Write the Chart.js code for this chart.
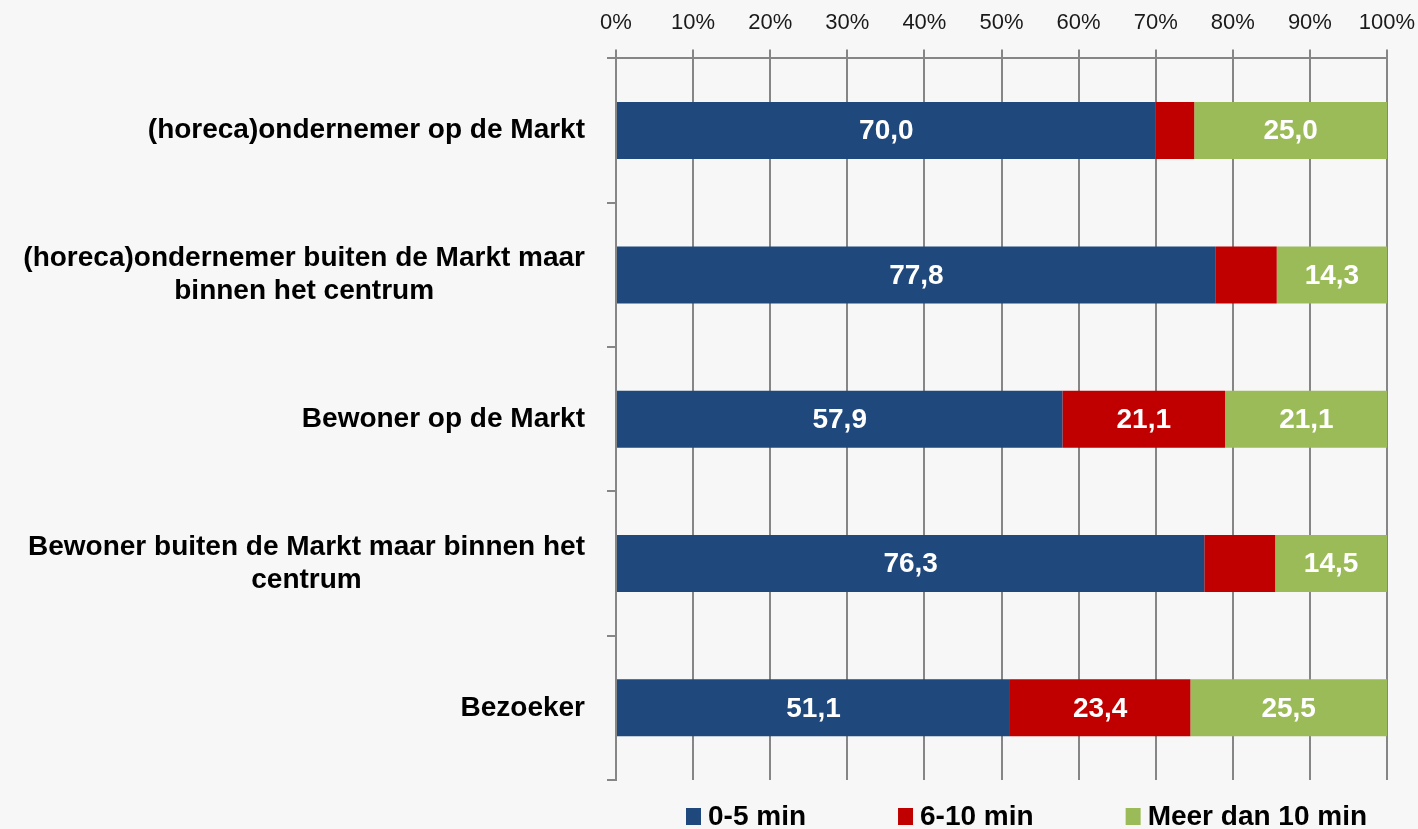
<!DOCTYPE html>
<html>
<head>
<meta charset="utf-8">
<script src="https://cdn.jsdelivr.net/npm/chart.js@4"></script>
<style>
  html, body { margin: 0; padding: 0; background: #f7f7f7; }
  #wrap { width: 1418px; height: 829px; position: relative; }
</style>
</head>
<body>
<div id="wrap"><canvas id="chart"></canvas></div>
<script>
// --- data ---
const categories = [
  ['(horeca)ondernemer op de Markt'],
  ['(horeca)ondernemer buiten de Markt maar', 'binnen het centrum'],
  ['Bewoner op de Markt'],
  ['Bewoner buiten de Markt maar binnen het', 'centrum'],
  ['Bezoeker']
];
const seriesNames = ['0-5 min', '6-10 min', 'Meer dan 10 min'];
const min0to5 = [70.0, 77.8, 57.9, 76.3, 51.1];
const min6to10 = [5.0, 7.9, 21.1, 9.2, 23.4];
const min10plus = [25.0, 14.3, 21.1, 14.5, 25.5];
const xTicks = [0, 10, 20, 30, 40, 50, 60, 70, 80, 90, 100];

const colors = ['#1f497d', '#c00000', '#9bbb59'];
const FONT = '"Liberation Sans", Arial, sans-serif';
const gridColor = '#868686';

// value labels inside segments (only the wide ones)
const valueLabels = {
  id: 'valueLabels',
  afterDatasetsDraw(chart) {
    const ctx = chart.ctx;
    ctx.save();
    ctx.font = 'bold 28px ' + FONT;
    ctx.fillStyle = '#ffffff';
    ctx.textAlign = 'center';
    ctx.textBaseline = 'middle';
    chart.data.datasets.forEach((ds, i) => {
      chart.getDatasetMeta(i).data.forEach((bar, j) => {
        const v = ds.data[j];
        if (v < 10) return;
        const p = bar.getProps(['x', 'y', 'base']);
        ctx.fillText(v.toFixed(1).replace('.', ','), (p.x + p.base) / 2, p.y + 1);
      });
    });
    ctx.restore();
  }
};

// category labels: block right-aligned to the axis, lines centered within block
const catLabels = {
  id: 'catLabels',
  afterDraw(chart) {
    const ctx = chart.ctx;
    const y = chart.scales.y;
    const right = chart.chartArea.left - 31;
    const lh = 33;
    ctx.save();
    ctx.font = 'bold 28px ' + FONT;
    ctx.fillStyle = '#000000';
    ctx.textAlign = 'center';
    ctx.textBaseline = 'middle';
    categories.forEach((lines, i) => {
      const w = Math.max(...lines.map(l => ctx.measureText(l).width));
      const cx = right - w / 2;
      const cy = y.getPixelForValue(i);
      const top = cy - (lines.length - 1) * lh / 2;
      lines.forEach((l, k) => ctx.fillText(l, cx, top + k * lh));
    });
    ctx.restore();
  }
};

// legend drawn below the plot
const bottomLegend = {
  id: 'bottomLegend',
  afterDraw(chart) {
    const ctx = chart.ctx;
    const cy = chart.chartArea.bottom + 36;
    let x = 686;
    ctx.save();
    ctx.font = 'bold 28px ' + FONT;
    ctx.textBaseline = 'middle';
    ctx.textAlign = 'left';
    chart.data.datasets.forEach(ds => {
      ctx.fillStyle = ds.backgroundColor;
      ctx.fillRect(x, cy - 8, 15, 17);
      ctx.fillStyle = '#000000';
      ctx.fillText(ds.label, x + 22, cy + 1);
      x += 22 + ctx.measureText(ds.label).width + 92;
    });
    ctx.restore();
  }
};

new Chart(document.getElementById('chart'), {
  type: 'bar',
  data: {
    labels: categories,
    datasets: [
      { label: seriesNames[0], data: min0to5, backgroundColor: colors[0] },
      { label: seriesNames[1], data: min6to10, backgroundColor: colors[1] },
      { label: seriesNames[2], data: min10plus, backgroundColor: colors[2] }
    ]
  },
  options: {
    indexAxis: 'y',
    responsive: true,
    maintainAspectRatio: false,
    animation: false,
    datasets: { bar: { categoryPercentage: 1, barPercentage: 0.395 } },
    layout: { padding: { left: 0, right: 31, top: -3, bottom: 49 } },
    scales: {
      x: {
        position: 'top',
        stacked: true,
        min: 0, max: 100,
        afterBuildTicks(axis) { axis.ticks = xTicks.map(v => ({ value: v })); },
        afterFit(axis) { axis.paddingLeft = 0; axis.paddingRight = 0; },
        ticks: {
          callback: v => v + '%',
          color: '#1a1a1a',
          font: { family: FONT, size: 22 },
          padding: 13,
          maxRotation: 0
        },
        grid: { color: gridColor, lineWidth: 2, tickLength: 9, tickColor: gridColor },
        border: { color: gridColor, width: 2 }
      },
      y: {
        stacked: true,
        afterFit(axis) { axis.width = 616; },
        ticks: { display: false },
        grid: { drawOnChartArea: false, color: gridColor, lineWidth: 2, tickLength: 9, offset: true },
        border: { color: gridColor, width: 2 }
      }
    },
    plugins: {
      tooltip: { enabled: false },
      legend: { display: false }
    }
  },
  plugins: [valueLabels, catLabels, bottomLegend]
});
</script>
</body>
</html>
